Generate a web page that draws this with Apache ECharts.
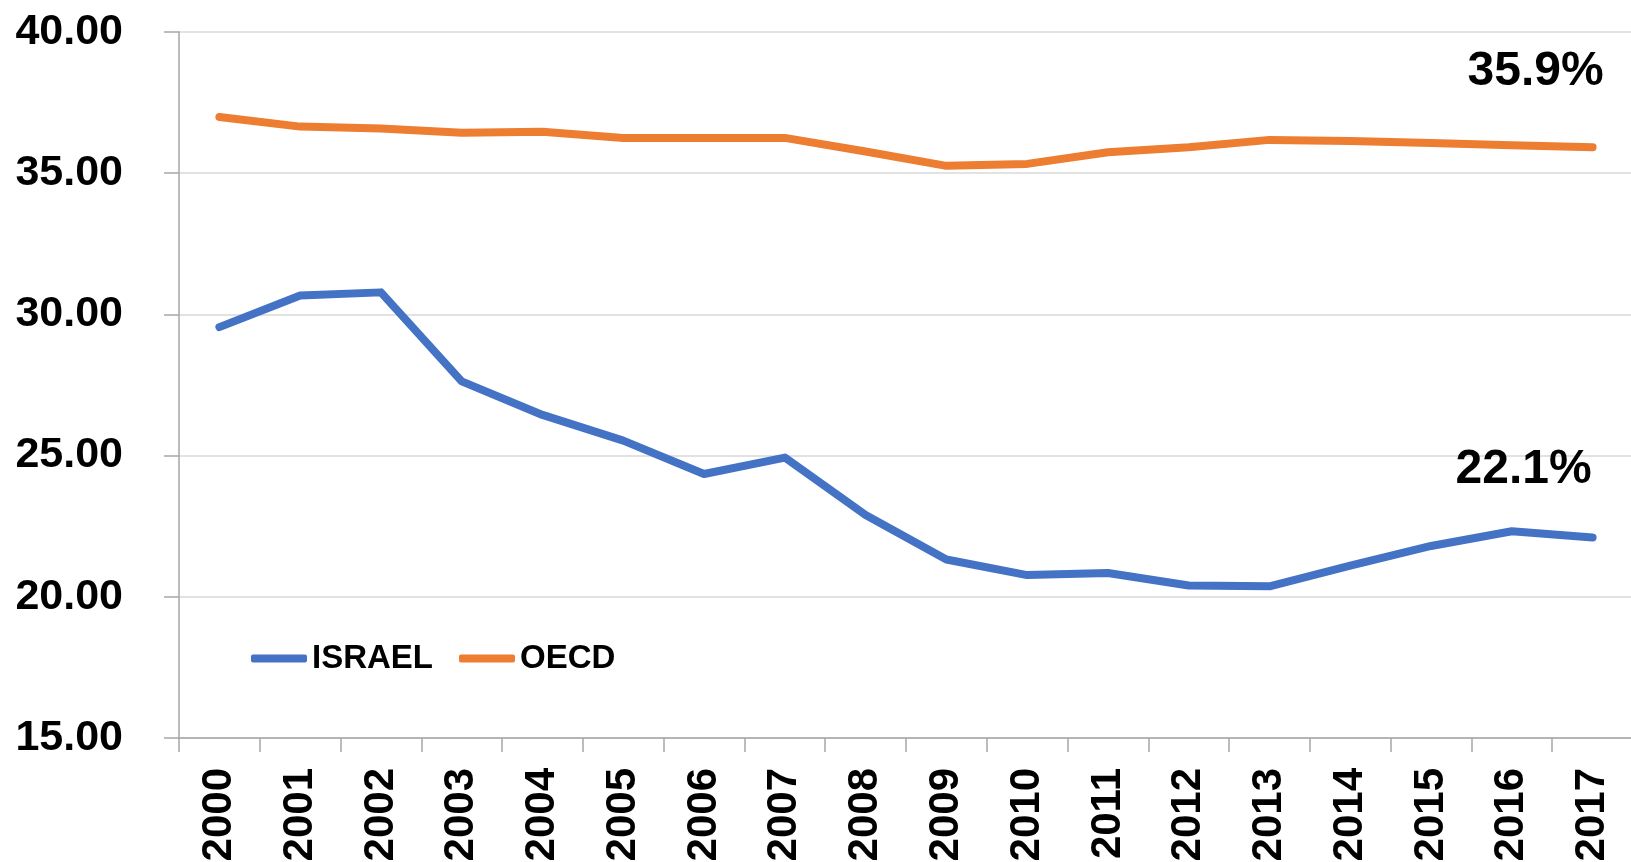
<!DOCTYPE html>
<html>
<head>
<meta charset="utf-8">
<script src="https://cdn.jsdelivr.net/npm/echarts@6/dist/echarts.min.js"></script>
<style>
html,body{margin:0;padding:0;background:#fff;}
#chart{width:1631px;height:862px;}
</style>
</head>
<body>
<div id="chart"></div>
<script>
const years = ['2000','2001','2002','2003','2004','2005','2006','2007','2008','2009','2010','2011','2012','2013','2014','2015','2016','2017'];
const israel = [29.55, 30.67, 30.78, 27.63, 26.44, 25.53, 24.35, 24.93, 22.90, 21.32, 20.77, 20.84, 20.40, 20.37, 21.10, 21.80, 22.32, 22.10];
const oecd = [36.99, 36.65, 36.58, 36.43, 36.47, 36.25, 36.25, 36.25, 35.77, 35.26, 35.33, 35.74, 35.92, 36.18, 36.14, 36.07, 35.99, 35.92];
const yTicks = {min: 15, max: 40, interval: 5};
const notes = {israel: '22.1%', oecd: '35.9%'};

const font = "'Liberation Sans', Arial, sans-serif";
const chart = echarts.init(document.getElementById('chart'), null, {renderer: 'canvas'});
chart.setOption({
  animation: false,
  backgroundColor: '#ffffff',
  grid: {left: 179, right: -2, top: 32, bottom: 124, containLabel: false, outerBoundsMode: 'none'},
  legend: {
    left: 246, top: 637,
    itemWidth: 56, itemHeight: 8, itemGap: 26,
    icon: 'roundRect',
    textStyle: {fontFamily: font, fontWeight: 'bold', fontSize: 33, color: '#000'},
    data: ['ISRAEL', 'OECD']
  },
  xAxis: {
    type: 'category',
    data: years,
    boundaryGap: true,
    axisLine: {lineStyle: {color: '#a6a6a6', width: 1.5}},
    axisTick: {show: true, length: 14, alignWithLabel: false, lineStyle: {color: '#a6a6a6', width: 1.5}},
    axisLabel: {interval: 0, rotate: 90, margin: 30, fontFamily: font, fontWeight: 'bold', fontSize: 42, color: '#000'}
  },
  yAxis: {
    type: 'value',
    min: yTicks.min, max: yTicks.max, interval: yTicks.interval,
    axisLine: {show: true, lineStyle: {color: '#a6a6a6', width: 1.5}},
    axisTick: {show: true, length: 15, lineStyle: {color: '#a6a6a6', width: 1.5}},
    splitLine: {show: true, lineStyle: {color: '#d9d9d9', width: 1.5}},
    axisLabel: {margin: 56, fontFamily: font, fontWeight: 'bold', fontSize: 43, color: '#000',
      formatter: v => v.toFixed(2)}
  },
  series: [
    {
      name: 'ISRAEL', type: 'line', data: israel,
      symbol: 'none', color: '#4472C4',
      lineStyle: {width: 8, color: '#4472C4', cap: 'round', join: 'round'},
      markPoint: {
        symbol: 'circle', symbolSize: 0,
        data: [{coord: [years.length - 1, israel[israel.length - 1]], value: notes.israel}],
        label: {show: true, formatter: notes.israel, offset: [-69, -68], fontFamily: font, fontWeight: 'bold', fontSize: 48, color: '#000'}
      }
    },
    {
      name: 'OECD', type: 'line', data: oecd,
      symbol: 'none', color: '#ED7D31',
      lineStyle: {width: 8, color: '#ED7D31', cap: 'round', join: 'round'},
      markPoint: {
        symbol: 'circle', symbolSize: 0,
        data: [{coord: [years.length - 1, oecd[oecd.length - 1]], value: notes.oecd}],
        label: {show: true, formatter: notes.oecd, offset: [-57, -75], fontFamily: font, fontWeight: 'bold', fontSize: 48, color: '#000'}
      }
    }
  ]
});
</script>
</body>
</html>
